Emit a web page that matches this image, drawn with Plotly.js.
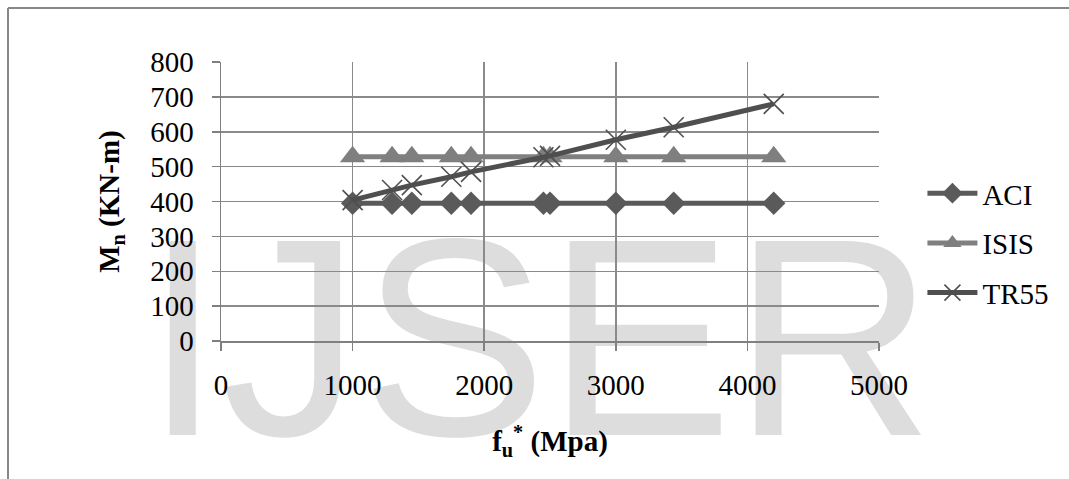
<!DOCTYPE html>
<html>
<head>
<meta charset="utf-8">
<script src="https://cdn.plot.ly/plotly-3.0.1.min.js"></script>
<style>
  html, body { margin: 0; padding: 0; background: #ffffff; }
  #wrap { position: relative; width: 1069px; height: 479px; overflow: hidden; }
  #wm { position: absolute; left: 0; top: 0; }
  #chart { position: absolute; left: 0; top: 0; width: 1069px; height: 479px; }
</style>
</head>
<body>
<div id="wrap">
  <svg id="wm" width="1069" height="479">
    <text x="144" y="435" font-family="Liberation Sans, Arial, sans-serif" font-size="282" textLength="790" lengthAdjust="spacingAndGlyphs" fill="#dddddd">IJSER</text>
  </svg>
  <div id="chart"></div>
</div>
<script>
// Fibre ultimate strength f_u* (MPa)
const strength = [1000, 1300, 1450, 1750, 1900, 2450, 2500, 3000, 3440, 4200];
// Nominal moment M_n (kN-m)
const aci  = [395, 395, 395, 395, 395, 395, 395, 395, 395, 395];
const isis = [528, 528, 528, 528, 528, 528, 528, 528, 528, 528];
const tr55 = [404, 433, 447, 471, 485, 527, 531, 577, 613, 680];
const seriesNames = ['ACI', 'ISIS', 'TR55'];
const xTicks = [0, 1000, 2000, 3000, 4000, 5000];
const yTicks = [0, 100, 200, 300, 400, 500, 600, 700, 800];

const serif = 'Liberation Serif, Times New Roman, serif';

const traces = [
  { x: strength, y: aci, name: seriesNames[0], mode: 'lines+markers', legendgroup: 'a',
    line: { color: '#5a5a5a', width: 5 },
    marker: { symbol: 'diamond', size: 18, color: '#5a5a5a' } },
  { x: strength, y: isis, name: seriesNames[1], mode: 'lines+markers', legendgroup: 'b',
    line: { color: '#808080', width: 5 },
    marker: { symbol: 'triangle-up', size: 22, color: '#7f7f7f' } },
  { x: strength, y: tr55, name: seriesNames[2], mode: 'lines+markers', legendgroup: 'c',
    line: { color: '#4f4f4f', width: 5 },
    marker: { symbol: 'x-thin', size: 20, color: '#4f4f4f', line: { color: '#4f4f4f', width: 1.6 } } }
];

const layout = {
  width: 1069, height: 479,
  margin: { l: 221, r: 190, t: 62, b: 138 },
  paper_bgcolor: 'rgba(0,0,0,0)',
  plot_bgcolor: 'rgba(0,0,0,0)',
  font: { family: serif, size: 29, color: '#000000' },
  showlegend: true,
  legend: { x: 1.066, xanchor: 'left', y: 0.35, yanchor: 'middle',
            font: { family: serif, size: 29, color: '#000000' },
            tracegroupgap: 9, itemwidth: 50, bgcolor: 'rgba(0,0,0,0)' },
  xaxis: {
    range: [0, 5000], tickvals: xTicks, ticktext: xTicks.map(String),
    showgrid: true, gridcolor: '#8a8a8a', gridwidth: 1.5,
    showline: true, linecolor: '#808080', linewidth: 1.5,
    ticks: 'outside', ticklen: 8, tickcolor: '#808080', tickwidth: 1.5,
    ticklabelstandoff: 10, zeroline: false,
    tickfont: { family: serif, size: 29, color: '#000000' },
    title: { text: '<b>f<sub>u</sub><sup>*</sup> (Mpa)</b>', standoff: 30,
             font: { family: serif, size: 29, color: '#000000' } }
  },
  yaxis: {
    range: [0, 800], tickvals: yTicks, ticktext: yTicks.map(String),
    showgrid: true, gridcolor: '#8a8a8a', gridwidth: 1.5,
    showline: true, linecolor: '#808080', linewidth: 1.5,
    ticks: 'outside', ticklen: 8, tickcolor: '#808080', tickwidth: 1.5,
    ticklabelstandoff: 12, zeroline: false,
    tickfont: { family: serif, size: 29, color: '#000000' },
    title: { text: '<b>M<sub>n</sub> (KN-m)</b>', standoff: 22,
             font: { family: serif, size: 29, color: '#000000' } }
  },
  shapes: [
    { type: 'line', xref: 'paper', yref: 'paper', x0: -0.3237, x1: 1.29, y0: 1.1935, y1: 1.1935,
      line: { color: '#888888', width: 2 } },
    { type: 'line', xref: 'paper', yref: 'paper', x0: -0.3237, x1: -0.3237, y0: 1.1935, y1: -0.5,
      line: { color: '#888888', width: 2 } }
  ]
};

Plotly.newPlot('chart', traces, layout, { displayModeBar: false, staticPlot: true });
</script>
</body>
</html>
